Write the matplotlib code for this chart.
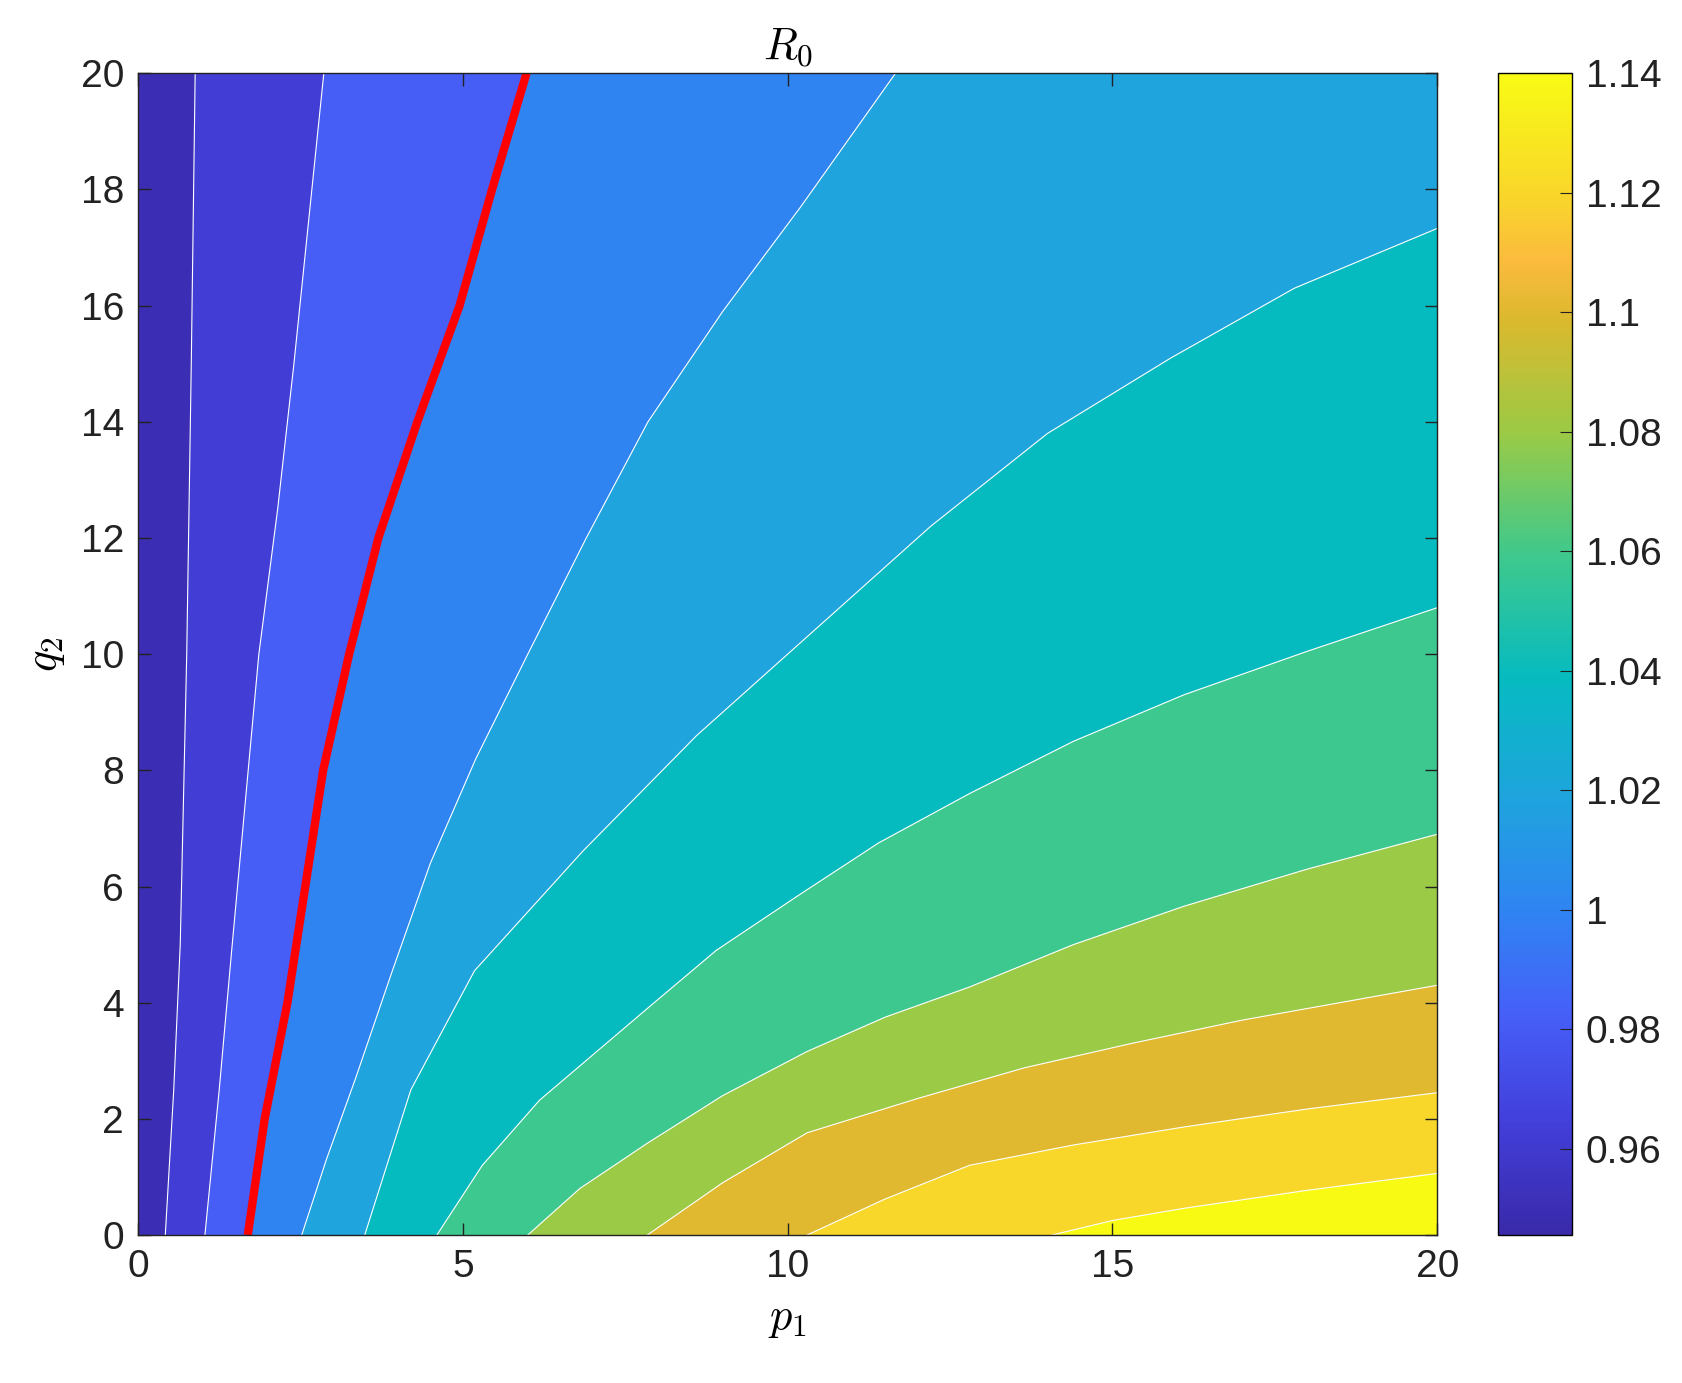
import matplotlib
matplotlib.use("Agg")
import matplotlib.pyplot as plt
from matplotlib.colors import LinearSegmentedColormap, Normalize
from matplotlib.cm import ScalarMappable

plt.rcParams['font.family'] = ['Liberation Sans', 'DejaVu Sans']
plt.rcParams['mathtext.fontset'] = 'cm'

# contour lines: (p1 points, q2 points), left to right
lines_p1 = [
    [0.42, 0.55, 0.65, 0.75, 0.82, 0.88],
    [1.03, 1.25, 1.45, 1.86, 2.15, 2.4, 2.86],
    [1.69, 1.95, 2.3, 2.85, 3.25, 3.7, 4.3, 4.95, 5.45, 5.98],
    [2.52, 2.9, 3.35, 3.9, 4.5, 5.2, 6.0, 6.9, 7.85, 9.0, 10.2, 11.66],
    [3.49, 4.2, 5.18, 6.84, 8.6, 10.5, 12.2, 14.0, 15.9, 17.8, 20.0],
    [4.6, 5.3, 6.18, 7.84, 8.9, 10.17, 11.4, 12.8, 14.4, 16.1, 18.0, 20.0],
    [6.0, 6.8, 7.84, 9.0, 10.3, 11.5, 12.8, 14.4, 16.1, 18.0, 20.0],
    [7.84, 9.0, 10.3, 12.0, 13.65, 15.3, 17.0, 18.5, 20.0],
    [10.3, 11.5, 12.8, 14.4, 16.1, 18.0, 20.0],
    [14.07, 15.0, 16.1, 18.0, 20.0],
]
lines_q2 = [
    [0, 2.5, 5, 10, 15, 20],
    [0, 2.5, 5, 10, 12.5, 15, 20],
    [0, 2, 4, 8, 10, 12, 14, 16, 18, 20],
    [0, 1.3, 2.7, 4.5, 6.4, 8.2, 10, 12.0, 14.0, 15.9, 17.7, 20],
    [0, 2.5, 4.55, 6.6, 8.6, 10.5, 12.2, 13.8, 15.1, 16.3, 17.33],
    [0, 1.2, 2.32, 3.9, 4.9, 5.85, 6.75, 7.6, 8.5, 9.3, 10.05, 10.8],
    [0, 0.8, 1.58, 2.4, 3.16, 3.75, 4.27, 5.0, 5.66, 6.3, 6.9],
    [0, 0.9, 1.76, 2.35, 2.88, 3.3, 3.7, 4.0, 4.3],
    [0, 0.62, 1.2, 1.55, 1.86, 2.17, 2.45],
    [0, 0.25, 0.46, 0.77, 1.06],
]
red_index = 2  # the R0 = 1 line

# R0 value used to colour each band, left/top band first
band_values = [0.95, 0.963, 0.982, 1.0, 1.019, 1.039, 1.058, 1.08, 1.1, 1.12, 1.14]

cb_ticks = [0.96, 0.98, 1.0, 1.02, 1.04, 1.06, 1.08, 1.1, 1.12, 1.14]
cb_labels = ['0.96', '0.98', '1', '1.02', '1.04', '1.06', '1.08', '1.1', '1.12', '1.14']
vmin, vmax = 0.9456, 1.14

parula = LinearSegmentedColormap.from_list('parula', [
    (0.0, '#3A2AAA'), (0.1, '#4340DC'), (0.19, '#4660F8'), (0.28, '#2F85F2'),
    (0.38, '#1EA5DC'), (0.48, '#06BBC0'), (0.59, '#42C98A'), (0.69, '#9ACA46'),
    (0.79, '#DCB92E'), (0.84, '#FBBB3D'), (0.89, '#F9D42C'), (1.0, '#F8FA14')])
norm = Normalize(vmin, vmax)

fig = plt.figure(figsize=(16.83, 13.83), dpi=100)
ax = fig.add_axes([0.082, 0.107, 0.772, 0.840])

ax.fill([0, 20, 20, 0], [0, 0, 20, 20], color=parula(norm(band_values[0])), lw=0)
for k, (xs, ys) in enumerate(zip(lines_p1, lines_q2)):
    px, py = list(xs), list(ys)
    if py[-1] >= 20:
        px += [20, 20]
        py += [20, 0]
    else:
        px += [20]
        py += [0]
    ax.fill(px, py, color=parula(norm(band_values[k + 1])), lw=0)

for k, (xs, ys) in enumerate(zip(lines_p1, lines_q2)):
    if k == red_index:
        ax.plot(xs, ys, color='#FF0000', lw=6, solid_capstyle='butt')
    else:
        ax.plot(xs, ys, color='white', lw=0.8)

ax.set_xlim(0, 20)
ax.set_ylim(0, 20)
ax.set_xticks([0, 5, 10, 15, 20])
ax.set_yticks(range(0, 21, 2))
ax.tick_params(direction='in', top=True, right=True, labelsize=28, length=9,
               width=1, colors='#222222', pad=10)
for s in ax.spines.values():
    s.set_linewidth(1)
    s.set_color('#222222')
ax.set_xlabel('$p_1$', fontsize=32, labelpad=10)
ax.set_ylabel('$q_2$', fontsize=32, labelpad=10)
ax.set_title('$R_0$', fontsize=32, pad=10)

cax = fig.add_axes([0.89, 0.107, 0.044, 0.840])
cb = fig.colorbar(ScalarMappable(norm=norm, cmap=parula), cax=cax, ticks=cb_ticks)
cb.ax.set_yticklabels(cb_labels)
cb.ax.tick_params(direction='in', labelsize=28, length=9, colors='#222222', pad=10)
cb.outline.set_linewidth(1)

fig.savefig('out.png', dpi=100)
